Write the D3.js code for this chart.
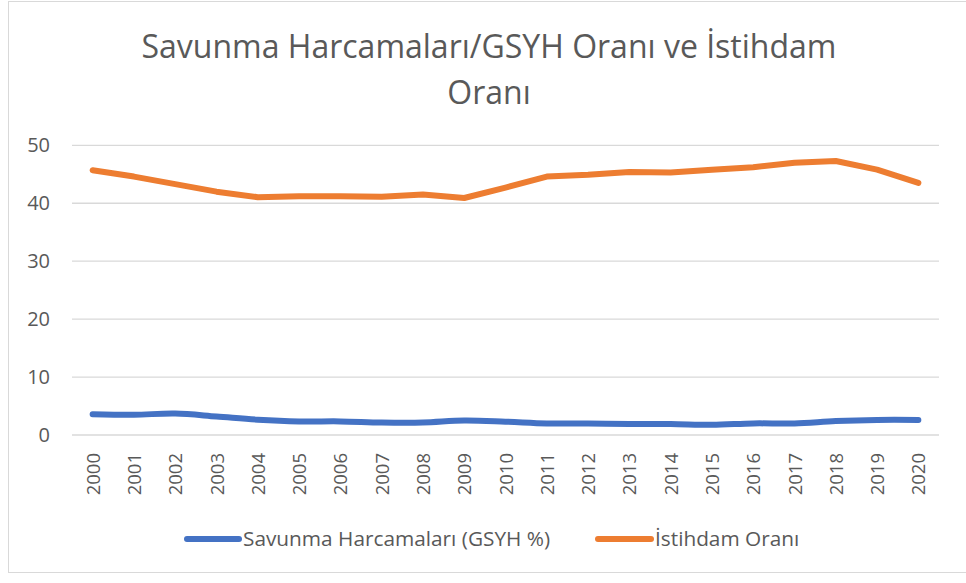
<!DOCTYPE html>
<html><head><meta charset="utf-8">
<script src="https://cdn.jsdelivr.net/npm/d3@7"></script>
<style>body{margin:0;background:#fff}svg{display:block}</style>
</head><body>
<svg id="c" width="966" height="583"></svg>
<script>
const years = ["2000","2001","2002","2003","2004","2005","2006","2007","2008","2009","2010","2011","2012","2013","2014","2015","2016","2017","2018","2019","2020"];
const savunma = [3.6,3.5,3.7,3.2,2.65,2.35,2.35,2.15,2.15,2.5,2.3,2.0,2.0,1.9,1.9,1.75,2.0,2.0,2.4,2.6,2.6];
const istihdam = [45.7,44.6,43.3,42.0,41.05,41.2,41.2,41.1,41.5,40.9,42.7,44.6,44.9,45.4,45.3,45.8,46.2,47.0,47.3,45.8,43.5];
const yTicks = [0,10,20,30,40,50];
const seriesNames = ["Savunma Harcamaları (GSYH %)","İstihdam Oranı"];
const colors = ["#4472c4","#ed7d31"];
const titleLines = ["Savunma Harcamaları/GSYH Oranı ve İstihdam","Oranı"];

const svg = d3.select("#c");
const font = "'Open Sans', sans-serif";
svg.append("rect").attr("x",8.5).attr("y",1.5).attr("width",980).attr("height",571).attr("fill","#fff").attr("stroke","#d9d9d9");

const x = d3.scaleBand().domain(years).range([72,939]);
const y = d3.scaleLinear().domain([0,50]).range([435,145.3]);

// title
svg.append("g").selectAll("text").data(titleLines).join("text")
  .attr("x",489).attr("y",(d,i)=>58+i*46).attr("text-anchor","middle")
  .attr("font-family",font).attr("font-size",32).attr("fill","#595959").text(d=>d);

// grid
svg.append("g").selectAll("line").data(yTicks).join("line")
  .attr("x1",72).attr("x2",939).attr("y1",d=>y(d)).attr("y2",d=>y(d))
  .attr("stroke","#d9d9d9").attr("stroke-width",1.3);

// y labels
svg.append("g").selectAll("text").data(yTicks).join("text")
  .attr("x",50).attr("y",d=>y(d)+7).attr("text-anchor","end")
  .attr("font-family",font).attr("font-size",20).attr("fill","#595959").text(d=>d);

// x labels
svg.append("g").selectAll("text").data(years).join("text")
  .attr("transform",d=>`translate(${x(d)+x.bandwidth()/2+7},${453}) rotate(-90)`)
  .attr("text-anchor","end")
  .attr("font-family",font).attr("font-size",18.5).attr("fill","#595959").text(d=>d);

const cx = d=>x(d)+x.bandwidth()/2;
const lineB = d3.line().x((d,i)=>cx(years[i])).y(d=>y(d)).curve(d3.curveCatmullRom);
const lineO = d3.line().x((d,i)=>cx(years[i])).y(d=>y(d));
svg.append("path").datum(savunma).attr("d",lineB).attr("fill","none").attr("stroke",colors[0]).attr("stroke-width",6).attr("stroke-linecap","round").attr("stroke-linejoin","round");
svg.append("path").datum(istihdam).attr("d",lineO).attr("fill","none").attr("stroke",colors[1]).attr("stroke-width",6).attr("stroke-linecap","round").attr("stroke-linejoin","round");

// legend
const leg = [{x1:187,x2:239,tx:243},{x1:598,x2:651,tx:655}];
const lg = svg.append("g");
leg.forEach((l,i)=>{
  lg.append("line").attr("x1",l.x1).attr("x2",l.x2).attr("y1",539).attr("y2",539).attr("stroke",colors[i]).attr("stroke-width",6).attr("stroke-linecap","round");
  lg.append("text").attr("x",l.tx).attr("y",546).attr("font-family",font).attr("font-size",20.8).attr("fill","#595959").text(seriesNames[i]);
});
</script>
</body></html>
